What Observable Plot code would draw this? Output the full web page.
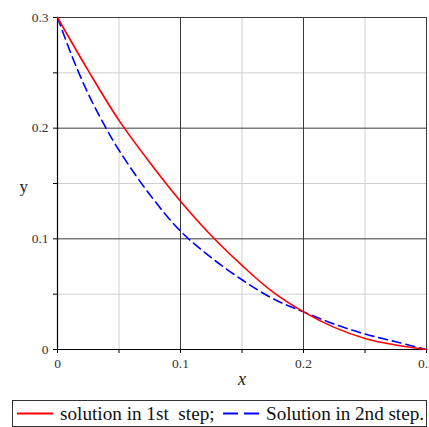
<!DOCTYPE html>
<html>
<head>
<meta charset="utf-8">
<script src="https://cdn.jsdelivr.net/npm/d3@7"></script>
<script src="https://cdn.jsdelivr.net/npm/@observablehq/plot@0.6"></script>
<style>
  html, body { margin: 0; padding: 0; background: #fff; overflow: hidden; }
</style>
</head>
<body>
<div id="chart"></div>
<div id="legend"></div>
<script>
// Data
const xs1 = [0, 0.025, 0.05, 0.075, 0.1, 0.125, 0.15, 0.175, 0.2, 0.225, 0.25, 0.275, 0.3];
const step1 = [0.300, 0.252, 0.207, 0.169, 0.134, 0.103, 0.076, 0.052, 0.034, 0.020, 0.010, 0.004, 0.0];
const xs2 = [0, 0.0125, 0.025, 0.0375, 0.05, 0.075, 0.1, 0.125, 0.15, 0.175, 0.2, 0.225, 0.25, 0.275, 0.3];
const step2 = [0.300, 0.263, 0.231, 0.204, 0.180, 0.140, 0.107, 0.083, 0.063, 0.046, 0.034, 0.023, 0.014, 0.007, 0.0];
const majorTicks = [0, 0.1, 0.2, 0.3];
const minorTicks = [0.05, 0.15, 0.25];
const seriesNames = ["solution in 1st\u00a0 step;", "Solution in 2nd step."];
const seriesColors = ["#ff0000", "#0000ff"];

const d1 = xs1.map((x, i) => ({x, y: step1[i]}));
const d2 = xs2.map((x, i) => ({x, y: step2[i]}));
const allTicks = [...majorTicks, ...minorTicks].sort((a, b) => a - b);
const serif = "'Liberation Serif', 'Times New Roman', serif";

const chart = Plot.plot({
  width: 429,
  height: 398,
  marginLeft: 57,
  marginRight: 3,
  marginTop: 17,
  marginBottom: 49,
  style: {fontFamily: serif, fontSize: "14px", color: "#333", overflow: "hidden"},
  x: {domain: [0, 0.3]},
  y: {domain: [0, 0.3]},
  marks: [
    Plot.ruleX(minorTicks, {stroke: "#cfcfcf", strokeWidth: 1}),
    Plot.ruleY(minorTicks, {stroke: "#cfcfcf", strokeWidth: 1}),
    Plot.ruleX(majorTicks, {stroke: "#3a3a3a", strokeWidth: 1}),
    Plot.ruleY(majorTicks, {stroke: "#3a3a3a", strokeWidth: 1}),
    Plot.ruleX([0], {stroke: "#000", strokeWidth: 1.2}),
    Plot.ruleY([0], {stroke: "#000", strokeWidth: 1.2}),
    Plot.axisX({ticks: allTicks, tickSize: 4, tickPadding: 5, stroke: "#000",
      tickFormat: d => majorTicks.includes(d) ? String(d) : "", label: null}),
    Plot.axisY({ticks: allTicks, tickSize: 4, tickPadding: 5, stroke: "#000",
      tickFormat: d => majorTicks.includes(d) ? String(d) : "", label: null}),
    Plot.line(d2, {x: "x", y: "y", stroke: seriesColors[1], strokeWidth: 1.6, strokeDasharray: "9,5", curve: "catmull-rom"}),
    Plot.line(d1, {x: "x", y: "y", stroke: seriesColors[0], strokeWidth: 1.6, curve: "catmull-rom"}),
    Plot.text(["x"], {frameAnchor: "bottom", dy: 35, fontStyle: "italic", fontSize: 18, fill: "#222"}),
    Plot.text(["y"], {frameAnchor: "left", dx: -38, dy: 3, fontSize: 17, fill: "#222"})
  ]
});
const sel = d3.select(chart);
sel.selectAll("text").attr("font-family", serif);
sel.selectAll("text").filter(function() { return majorTicks.map(String).includes(this.textContent); })
  .style("font-size", "13.5px").attr("fill", "#333");
document.getElementById("chart").appendChild(chart);

// Legend
const lg = d3.select("#legend").append("svg").attr("width", 429).attr("height", 29)
  .style("display", "block").attr("font-family", serif);
lg.append("rect").attr("x", 12.5).attr("y", 2.5).attr("width", 414).attr("height", 26)
  .attr("fill", "none").attr("stroke", "#333").attr("stroke-width", 1);
lg.append("line").attr("x1", 17).attr("x2", 53).attr("y1", 15.5).attr("y2", 15.5)
  .attr("stroke", seriesColors[0]).attr("stroke-width", 2);
lg.append("text").attr("x", 60).attr("y", 22).attr("font-size", 19.2).attr("fill", "#111")
  .text(seriesNames[0]);
lg.append("line").attr("x1", 223).attr("x2", 260).attr("y1", 15.5).attr("y2", 15.5)
  .attr("stroke", seriesColors[1]).attr("stroke-width", 2).attr("stroke-dasharray", "15,6");
lg.append("text").attr("x", 266).attr("y", 22).attr("font-size", 19.2).attr("fill", "#111")
  .attr("textLength", 158).attr("lengthAdjust", "spacing")
  .text(seriesNames[1]);
</script>
</body>
</html>
